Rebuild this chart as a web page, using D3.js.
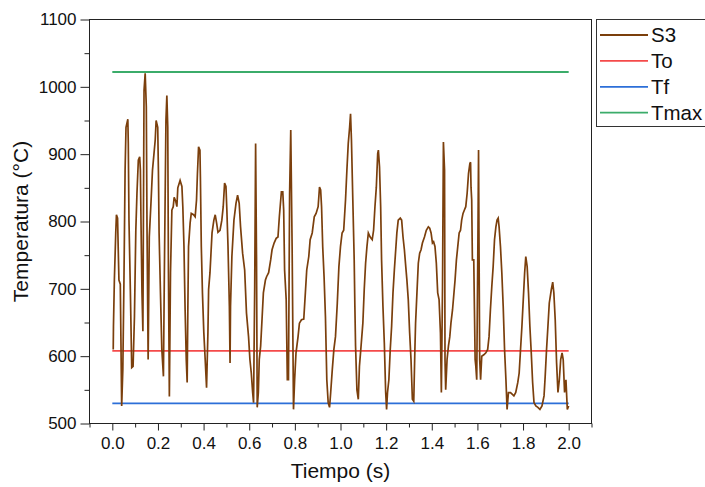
<!DOCTYPE html>
<html><head><meta charset="utf-8">
<script src="https://cdn.jsdelivr.net/npm/d3@7"></script>
<style>
html,body{margin:0;padding:0;background:#fff;}
svg{display:block;font-family:"Liberation Sans",Arial,sans-serif;}
</style></head>
<body><svg id="c" width="705" height="487"></svg>
<script>
// ---- data ----
const time = [0.004,0.005,0.009,0.015,0.018,0.023,0.026,0.029,0.035,0.041,0.046,0.051,0.056,0.060,0.068,0.070,0.073,0.079,0.085,0.091,0.097,0.103,0.108,0.114,0.120,0.123,0.126,0.130,0.134,0.139,0.144,0.149,0.152,0.157,0.162,0.170,0.176,0.188,0.192,0.199,0.202,0.205,0.211,0.217,0.224,0.228,0.235,0.239,0.243,0.246,0.250,0.255,0.261,0.267,0.271,0.278,0.283,0.287,0.297,0.305,0.309,0.314,0.319,0.324,0.328,0.331,0.334,0.341,0.346,0.356,0.363,0.369,0.373,0.378,0.384,0.386,0.390,0.395,0.401,0.407,0.413,0.419,0.422,0.428,0.437,0.445,0.451,0.457,0.463,0.472,0.480,0.486,0.492,0.498,0.502,0.507,0.513,0.516,0.518,0.524,0.533,0.542,0.549,0.556,0.562,0.571,0.580,0.588,0.597,0.603,0.609,0.615,0.619,0.624,0.628,0.632,0.635,0.640,0.644,0.650,0.656,0.662,0.671,0.676,0.685,0.694,0.700,0.709,0.718,0.726,0.732,0.738,0.741,0.747,0.751,0.755,0.762,0.767,0.772,0.777,0.782,0.788,0.794,0.799,0.805,0.814,0.820,0.829,0.839,0.846,0.852,0.861,0.867,0.876,0.885,0.893,0.902,0.908,0.913,0.917,0.922,0.928,0.934,0.940,0.946,0.952,0.957,0.964,0.971,0.978,0.986,0.993,1.000,1.007,1.014,1.022,1.028,1.034,1.040,1.044,1.048,1.054,1.060,1.063,1.066,1.072,1.078,1.083,1.089,1.098,1.104,1.110,1.116,1.122,1.130,1.139,1.145,1.151,1.157,1.163,1.166,1.171,1.176,1.180,1.186,1.192,1.198,1.202,1.206,1.212,1.218,1.224,1.230,1.236,1.242,1.247,1.253,1.262,1.268,1.274,1.280,1.286,1.291,1.297,1.303,1.309,1.315,1.321,1.326,1.329,1.335,1.341,1.347,1.353,1.359,1.368,1.376,1.385,1.391,1.397,1.403,1.408,1.414,1.420,1.426,1.432,1.438,1.442,1.447,1.451,1.456,1.458,1.461,1.467,1.473,1.479,1.484,1.491,1.496,1.502,1.508,1.514,1.520,1.526,1.531,1.537,1.543,1.549,1.555,1.561,1.567,1.570,1.572,1.575,1.578,1.584,1.587,1.590,1.593,1.597,1.602,1.605,1.607,1.610,1.614,1.619,1.628,1.637,1.645,1.651,1.657,1.663,1.669,1.675,1.681,1.686,1.691,1.695,1.701,1.707,1.713,1.719,1.725,1.730,1.736,1.745,1.751,1.760,1.768,1.777,1.783,1.789,1.795,1.801,1.807,1.812,1.818,1.824,1.830,1.836,1.842,1.848,1.856,1.865,1.874,1.883,1.892,1.897,1.903,1.909,1.915,1.924,1.930,1.935,1.941,1.947,1.953,1.959,1.965,1.971,1.976,1.982,1.988,1.994,2.000];
const temp = [610,644,713,783,810,805,758,713,707,526,580,713,876,940,952,916,802,699,583,585,659,787,842,891,896,876,792,694,637,995,1020,970,792,595,777,832,876,921,950,940,876,783,694,610,570,720,950,987,940,724,540,724,817,822,836,830,822,850,861,852,822,763,669,595,561,669,763,798,812,810,807,832,871,911,906,866,763,694,635,595,553,635,699,724,783,802,810,798,784,787,802,822,857,852,817,763,674,590,674,748,802,827,839,827,792,753,728,664,629,595,575,546,531,703,916,743,524,546,595,615,654,694,713,718,724,743,758,768,775,777,807,832,844,844,817,728,684,565,565,842,936,763,521,565,605,629,649,654,655,694,728,748,773,783,807,812,822,851,847,822,763,718,659,565,531,524,546,580,610,629,679,733,763,783,787,832,876,916,940,960,921,832,743,674,615,550,536,585,610,649,699,738,763,783,777,773,787,822,851,901,906,881,822,743,674,620,546,521,546,565,610,644,694,728,758,783,802,805,802,777,758,733,713,684,635,595,536,533,610,649,694,738,753,758,768,777,787,792,790,783,768,770,763,738,694,684,635,546,700,918,876,595,550,595,615,629,649,669,689,713,743,763,783,787,802,812,817,822,842,871,886,888,851,832,743,743,669,595,585,565,763,906,770,595,565,600,602,605,610,629,669,703,733,773,792,802,805,792,763,724,674,610,565,521,546,546,544,541,546,561,575,610,644,684,724,748,733,694,644,605,561,531,526,524,521,526,541,570,610,644,679,699,710,694,654,590,546,565,595,605,595,546,565,521,526];
const refNames = ["To","Tf","Tmax"];
const refValues = [608,530,1022];
const refStart = 0.0, refEnd = 2.0;
const xTicks = [0.0,0.2,0.4,0.6,0.8,1.0,1.2,1.4,1.6,1.8,2.0];
const xMinor = [-0.1,0.1,0.3,0.5,0.7,0.9,1.1,1.3,1.5,1.7,1.9,2.1];
const yTicks = [500,600,700,800,900,1000,1100];
const yMinor = [550,650,750,850,950,1050];
const legendNames = ["S3","To","Tf","Tmax"];

// ---- styles ----
const colS3 = "#7b3f0c";
const refColors = {"To":"#f44a4a","Tf":"#2c6fd8","Tmax":"#3bac6a"};
const legendColors = [colS3, refColors.To, refColors.Tf, refColors.Tmax];

const svg = d3.select("#c");
const L = 89.5, R = 591.5, T = 19.5, B = 423.5;
const x = d3.scaleLinear().domain([-0.1, 2.1]).range([L, R]);
const y = d3.scaleLinear().domain([500, 1100]).range([B, T]);

// reference lines
refNames.forEach((n,i)=>{
  svg.append("line")
    .attr("x1", x(refStart)).attr("x2", x(refEnd))
    .attr("y1", y(refValues[i])).attr("y2", y(refValues[i]))
    .attr("stroke", refColors[n]).attr("stroke-width", 1.8);
});

// S3 series
const pts = time.map((t,i)=>[t,temp[i]]);
svg.append("path")
  .datum(pts)
  .attr("fill","none")
  .attr("stroke", colS3)
  .attr("stroke-width", 1.7)
  .attr("stroke-linejoin","miter")
  .attr("d", d3.line().x(d=>x(d[0])).y(d=>y(d[1])));

// frame
svg.append("rect").attr("x",L).attr("y",T).attr("width",R-L).attr("height",B-T)
  .attr("fill","none").attr("stroke","#222").attr("stroke-width",1);

// axes
const fs = 17;
const gx = svg.append("g").attr("transform",`translate(0,${B})`)
  .call(d3.axisBottom(x).tickValues(xTicks).tickFormat(d3.format(".1f")).tickSize(7).tickSizeOuter(0).tickPadding(6));
gx.select(".domain").remove();
svg.append("g").attr("transform",`translate(0,${B})`)
  .call(d3.axisBottom(x).tickValues(xMinor).tickFormat("").tickSize(4).tickSizeOuter(0))
  .select(".domain").remove();
const gy = svg.append("g").attr("transform",`translate(${L},0)`)
  .call(d3.axisLeft(y).tickValues(yTicks).tickFormat(d3.format("d")).tickSize(9).tickSizeOuter(0).tickPadding(4));
gy.select(".domain").remove();
svg.append("g").attr("transform",`translate(${L},0)`)
  .call(d3.axisLeft(y).tickValues(yMinor).tickFormat("").tickSize(5).tickSizeOuter(0))
  .select(".domain").remove();
svg.selectAll(".tick line").attr("stroke","#222");
svg.selectAll(".tick text").attr("font-size",fs).attr("fill","#111")
  .attr("font-family","Liberation Sans, Arial, sans-serif");

// titles
svg.append("text").attr("x",(L+R)/2).attr("y",478).attr("text-anchor","middle")
  .attr("font-size",21).attr("fill","#111").text("Tiempo (s)");
svg.append("text").attr("transform",`translate(28,${(T+B)/2}) rotate(-90)`)
  .attr("text-anchor","middle").attr("font-size",21).attr("fill","#111").text("Temperatura (°C)");

// legend
const lg = svg.append("g");
lg.append("rect").attr("x",596.5).attr("y",19.5).attr("width",112).attr("height",107)
  .attr("fill","#fff").attr("stroke","#333").attr("stroke-width",1);
legendNames.forEach((n,i)=>{
  const yy = 35 + i*25.9;
  lg.append("line").attr("x1",600).attr("x2",648).attr("y1",yy).attr("y2",yy)
    .attr("stroke",legendColors[i]).attr("stroke-width",1.8);
  lg.append("text").attr("x",651).attr("y",yy+7).attr("font-size",20.5).attr("fill","#111").text(n);
});
</script></body></html>
